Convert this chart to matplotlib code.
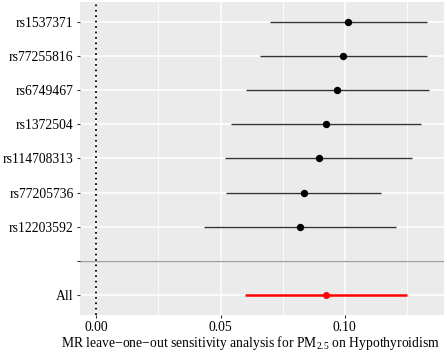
import matplotlib
matplotlib.use("Agg")
import matplotlib.pyplot as plt

plt.rcParams['font.family'] = ['Liberation Serif', 'DejaVu Serif']
plt.rcParams['mathtext.fontset'] = 'custom'
plt.rcParams['mathtext.rm'] = 'Liberation Serif'

# Data (top to bottom as displayed)
snps = ["rs1537371", "rs77255816", "rs6749467", "rs1372504",
        "rs114708313", "rs77205736", "rs12203592"]
b = [0.1012, 0.0993, 0.0968, 0.0923, 0.0895, 0.0835, 0.0820]
lo = [0.0698, 0.0658, 0.0601, 0.0542, 0.0519, 0.0522, 0.0434]
hi = [0.1329, 0.1331, 0.1337, 0.1307, 0.1270, 0.1147, 0.1205]
all_b, all_lo, all_hi = 0.0925, 0.0597, 0.1252

xticks = [0.00, 0.05, 0.10]
xticklabels = ["0.00", "0.05", "0.10"]
minor_ticks = [0.025, 0.075, 0.125]

W, H = 447, 359
fig = plt.figure(figsize=(W/100, H/100), dpi=100)
ax = fig.add_axes([80/W, (H-315)/H, (444-80)/W, (315-2)/H])
ax.set_facecolor('#EBEBEB')
for s in ax.spines.values():
    s.set_visible(False)

n = len(snps)
ypos = list(range(n + 2, 2, -1))  # 9 .. 3
labels = ["All", ""] + snps[::-1]
positions = [1, 2] + ypos[::-1]

# grid
for y in positions:
    ax.axhline(y, color='white', lw=1.1, zorder=0)
for x in xticks:
    ax.axvline(x, color='white', lw=1.1, zorder=0)
for x in minor_ticks:
    ax.axvline(x, color='white', lw=0.55, zorder=0)

ax.axvline(0, color='black', ls=(0, (1, 2)), lw=1.3, zorder=1)
ax.axhline(2, color='#A0A0A0', lw=1.0, zorder=1)

for y, bb, l, h in zip(ypos, b, lo, hi):
    ax.plot([l, h], [y, y], color='#333333', lw=1.0, zorder=2, solid_capstyle='butt')
    ax.plot([bb], [y], 'o', color='black', ms=4.3, zorder=3)
ax.plot([all_lo, all_hi], [1, 1], color='red', lw=1.8, zorder=2, solid_capstyle='butt')
ax.plot([all_b], [1], 'o', color='red', ms=4.0, zorder=3)

ax.set_xlim(-0.00656, 0.1399)
ax.set_ylim(0.4, 9.6)
ax.set_yticks(positions)
ax.set_yticklabels(labels)
ax.set_xticks(xticks)
ax.set_xticklabels(xticklabels)
ax.tick_params(axis='both', length=2.5, width=0.8, color='#333333', labelsize=9.8,
               labelcolor='black', pad=2)
fig.text(250/W, 1 - 343/H, "MR leave\u2212one\u2212out sensitivity analysis for PM$_{2.5}$ on Hypothyroidism",
         fontsize=9.8, ha='center', va='center')

fig.savefig("out.png", dpi=100)
